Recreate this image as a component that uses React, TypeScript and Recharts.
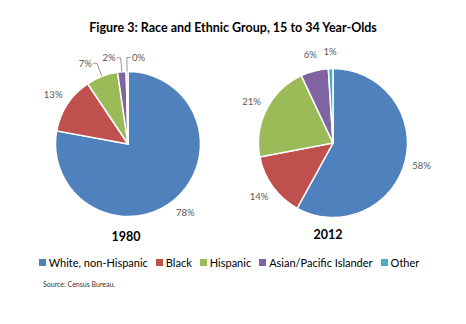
import React from 'react';
import { PieChart, Pie, Cell, Legend } from 'recharts';

const groups = ['White, non-Hispanic', 'Black', 'Hispanic', 'Asian/Pacific Islander', 'Other'];
const colors = ['#4F81BD', '#C0504D', '#9BBB59', '#8064A2', '#4BACC6'];
const values1980 = [77.9, 12.7, 7.1, 1.9, 0.4];
const values2012 = [58, 14, 21, 6, 1];
const years = ['1980', '2012'];

const font = 'Lato, "Open Sans", sans-serif';

const data1980 = groups.map((name, i) => ({ name, value: values1980[i] }));
const data2012 = groups.map((name, i) => ({ name, value: values2012[i] }));

const RAD = Math.PI / 180;

// small slices get a leader line and are pushed sideways, like Excel's best fit
const makeLabel = (leader: boolean) => (props: any) => {
  const { cx, cy, midAngle, outerRadius, percent } = props;
  const cos = Math.cos(-midAngle * RAD);
  const sin = Math.sin(-midAngle * RAD);
  const txt = `${Math.round(percent * 100)}%`;
  if (leader && percent < 0.1) {
    const r = outerRadius + 14;
    const sx = cx + outerRadius * cos;
    const sy = cy + outerRadius * sin;
    const ex = cx + r * cos;
    const ey = cy + r * sin;
    const side = cos < -0.03 ? -1 : 1;
    const lx = ex + side * 4;
    return (
      <g>
        <polyline points={`${sx},${sy} ${ex},${ey} ${lx},${ey}`} fill="none" stroke="#7f7f7f" strokeWidth={0.8} />
        <text x={lx + side * 1} y={ey} textAnchor={side < 0 ? 'end' : 'start'} dominantBaseline="central"
          fontSize={9.5} fill="#595959" fontFamily={font}>{txt}</text>
      </g>
    );
  }
  const r = outerRadius + 17;
  return (
    <text x={cx + r * cos} y={cy + r * sin} textAnchor="middle" dominantBaseline="central"
      fontSize={9.5} fill="#595959" fontFamily={font}>{txt}</text>
  );
};

const renderLegend = () => (
  <div style={{ display: 'flex', justifyContent: 'center', fontFamily: font, fontSize: 11, color: '#000' }}>
    {groups.map((g, i) => (
      <span key={g} style={{ display: 'flex', alignItems: 'center', marginRight: 8 }}>
        <span style={{ width: 7, height: 7, background: colors[i], marginRight: 3 }} />
        {g}
      </span>
    ))}
  </div>
);

export default function App() {
  return (
    <div style={{ position: 'fixed', left: 0, top: 0, width: 466, height: 324, background: '#fff', fontFamily: font }}>
      <div style={{ position: 'absolute', top: 20, left: 0, width: 466, textAlign: 'center', fontWeight: 700, fontSize: 12.5 }}>
        Figure 3: Race and Ethnic Group, 15 to 34 Year-Olds
      </div>
      <PieChart width={466} height={324}>
        <Pie data={data1980} dataKey="value" nameKey="name" cx={123} cy={139} outerRadius={72.5}
          startAngle={90} endAngle={-270} stroke="#fff" strokeWidth={1.5}
          label={makeLabel(true)} labelLine={false} isAnimationActive={false}>
          {data1980.map((d, i) => <Cell key={d.name} fill={colors[i]} />)}
        </Pie>
        <Pie data={data2012} dataKey="value" nameKey="name" cx={328} cy={138} outerRadius={74.5}
          startAngle={90} endAngle={-270} stroke="#fff" strokeWidth={1.5}
          label={makeLabel(false)} labelLine={false} isAnimationActive={false}>
          {data2012.map((d, i) => <Cell key={d.name} fill={colors[i]} />)}
        </Pie>
        <Legend content={renderLegend} wrapperStyle={{ top: 256, left: 0, width: 466 }} />
      </PieChart>
      <div style={{ position: 'absolute', top: 229, left: 106, width: 40, textAlign: 'center', fontWeight: 700, fontSize: 12.5 }}>{years[0]}</div>
      <div style={{ position: 'absolute', top: 227, left: 308, width: 40, textAlign: 'center', fontWeight: 700, fontSize: 12.5 }}>{years[1]}</div>
      <div style={{ position: 'absolute', top: 280, left: 43, fontSize: 7, color: '#333' }}>Source: Census Bureau.</div>
    </div>
  );
}
